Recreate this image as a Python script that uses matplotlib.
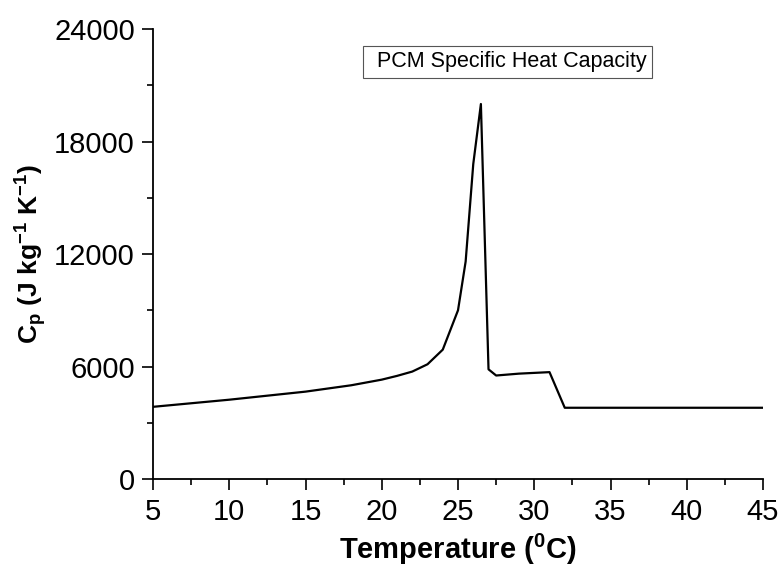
import matplotlib
matplotlib.use('Agg')
import matplotlib.pyplot as plt
from matplotlib.ticker import MultipleLocator

# data
temperature = [5, 10, 15, 18, 20, 21, 22, 23, 24, 25, 25.5, 26, 26.5,
               27, 27.5, 29, 31, 32, 45]
cp = [3850, 4230, 4660, 5000, 5300, 5500, 5730, 6120, 6900, 9000, 11600,
      16800, 20000, 5850, 5520, 5620, 5700, 3800, 3800]

plt.rcParams['font.family'] = ['Liberation Sans', 'DejaVu Sans']

fig = plt.figure(figsize=(7.82, 5.71), dpi=100)
ax = fig.add_axes([0.1957, 0.1611, 0.78, 0.7881])

ax.plot(temperature, cp, color='black', linewidth=1.6,
        label='PCM Specific Heat Capacity')

ax.set_xlim(5, 45)
ax.set_ylim(0, 24000)
ax.xaxis.set_major_locator(MultipleLocator(5))
ax.xaxis.set_minor_locator(MultipleLocator(2.5))
ax.yaxis.set_major_locator(MultipleLocator(6000))
ax.yaxis.set_minor_locator(MultipleLocator(3000))

for s in ['top', 'right']:
    ax.spines[s].set_visible(False)
for s in ['left', 'bottom']:
    ax.spines[s].set_linewidth(1.3)

ax.tick_params(which='major', direction='out', length=8, width=1.2,
               labelsize=21, pad=5)
ax.tick_params(which='minor', direction='out', length=4, width=1.2)
ax.tick_params(axis='x', which='major', pad=6)

ax.set_xlabel('Temperature ($\\mathregular{^0}$C)', fontsize=21,
              fontweight='bold', labelpad=4)
ax.set_ylabel('C$\\mathregular{_p}$ (J kg$\\mathregular{^{-1}}$ K$\\mathregular{^{-1}}$)',
              fontsize=19, fontweight='bold', labelpad=4)

leg = ax.legend(loc='upper left', bbox_to_anchor=(363 / 782, 1 - 46 / 571),
                bbox_transform=fig.transFigure, fontsize=15.5, handlelength=0,
                handletextpad=0.4, fancybox=False, framealpha=1,
                borderpad=0.25, borderaxespad=0)
leg.get_frame().set_edgecolor('#555555')
leg.get_frame().set_linewidth(0.8)

fig.savefig('out.png', dpi=100)
